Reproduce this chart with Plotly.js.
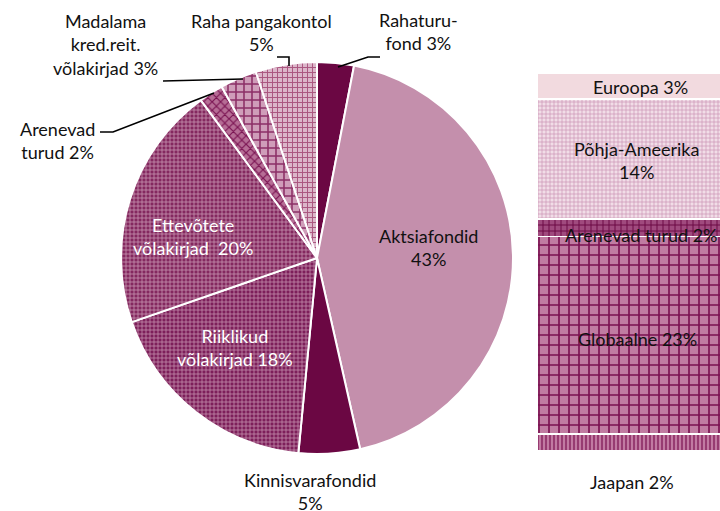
<!DOCTYPE html>
<html><head><meta charset="utf-8">
<script src="https://cdn.plot.ly/plotly-3.0.1.min.js"></script>
<style>body{margin:0;background:#fff}#c{width:720px;height:511px}</style>
</head><body><div id="c"></div>
<script>
// ---- data ----
const pieLabels = ["Rahaturufond","Aktsiafondid","Kinnisvarafondid","Riiklikud võlakirjad","Ettevõtete võlakirjad","Arenevad turud","Madalama kred.reit. võlakirjad","Raha pangakontol"];
const pieValues = [3, 43, 5, 18, 20, 2, 3, 5];
const pieTexts = ["Rahaturu-<br>fond 3%","Aktsiafondid<br>43%","Kinnisvarafondid<br>5%","Riiklikud<br>võlakirjad 18%","Ettevõtete<br>võlakirjad  20%","Arenevad<br>turud 2%","Madalama<br>kred.reit.<br>võlakirjad 3%","Raha pangakontol<br>5%"];
const barLabels = ["Jaapan","Globaalne","Arenevad turud","Põhja-Ameerika","Euroopa"];
const barValues = [2, 23, 2, 14, 3];
const barTexts = ["Jaapan 2%","Globaalne 23%","Arenevad turud 2%","Põhja-Ameerika<br>14%","Euroopa 3%"];

// ---- styling ----
const W = 720, H = 511;
const px = x => x / W, py = y => 1 - y / H;
const FONT = "Lato, 'Open Sans', sans-serif";

const pieBg = ["#6b0743","#c48fac","#6b0743","#7d1f5a","#84285f","#b66d95","#cf9db9","#dcb6ca"];
const pieFg = ["#6b0743","#c48fac","#6b0743","#c58eae","#c995b3","#7a1352","#8c2f66","#a9557f"];
const pieShape = ["","","","+","+","x","+","+"];
const pieSize = [8,8,8,4,4,6,8,5];
const pieTextPos = [[418,31],[428,247],[310,491],[235,347],[193,237],[57,141],[105,44],[261,32]];
const pieTextColor = ["#111","#111","#111","#fff","#fff","#111","#111","#111"];

const barBg = ["#c27aa2","#c07ca2","#a04a7e","#f1dde7","#f2dadf"];
const barFg = ["#7a1050","#7a1050","#6b0743","#c890b0","#f2dadf"];
const barShape = ["|","+","+","+",""];
const barSize = [4,10,6,4,8];
const barTextPos = [[632,482],[637,339],[641,235],[636,160],[640,87]];

const traces = [{
  type: "pie",
  labels: pieLabels,
  values: pieValues,
  sort: false,
  direction: "clockwise",
  rotation: 0,
  textinfo: "none",
  hoverinfo: "none",
  showlegend: false,
  domain: {x: [px(121), px(513)], y: [py(454), py(62)]},
  marker: {
    colors: pieBg,
    line: {color: "#ffffff", width: 2},
    pattern: {shape: pieShape, fgcolor: pieFg, bgcolor: pieBg, size: pieSize, solidity: 0.35, fillmode: "replace"}
  }
}];

barLabels.forEach((lab, i) => {
  traces.push({
    type: "bar",
    name: lab,
    x: [0.611],
    y: [barValues[i]],
    width: 0.917,
    xaxis: "x", yaxis: "y",
    hoverinfo: "none",
    showlegend: false,
    marker: {
      color: barBg[i],
      line: {color: "#ffffff", width: 1.5},
      pattern: {shape: barShape[i], fgcolor: barFg[i], bgcolor: barBg[i], size: barSize[i], solidity: 0.3, fillmode: "replace"}
    }
  });
});

const annotations = [];
pieTexts.forEach((t, i) => annotations.push({
  xref: "paper", yref: "paper", x: px(pieTextPos[i][0]), y: py(pieTextPos[i][1]),
  xanchor: "center", yanchor: "middle", text: t, showarrow: false, align: "center",
  font: {family: FONT, size: 18, color: pieTextColor[i]}
}));
barTexts.forEach((t, i) => annotations.push({
  xref: "paper", yref: "paper", x: px(barTextPos[i][0]), y: py(barTextPos[i][1]),
  xanchor: "center", yanchor: "middle", text: t, showarrow: false, align: "center",
  font: {family: FONT, size: 18, color: "#111"}
}));

const lineSt = {color: "#000", width: 1.6};
const path = pts => pts.map((p, k) => (k ? "L" : "M") + px(p[0]) + "," + py(p[1])).join(" ");
const shapes = [
  {type: "path", xref: "paper", yref: "paper", path: path([[338,67],[368,57],[380,57]]), line: lineSt},
  {type: "path", xref: "paper", yref: "paper", path: path([[289,66],[289,57],[277,57]]), line: lineSt},
  {type: "path", xref: "paper", yref: "paper", path: path([[163,81],[243,79]]), line: lineSt},
  {type: "path", xref: "paper", yref: "paper", path: path([[100,132],[113,132],[214,93]]), line: lineSt}
];

const layout = {
  width: W, height: H,
  margin: {l: 0, r: 0, t: 0, b: 0},
  paper_bgcolor: "#fff", plot_bgcolor: "rgba(0,0,0,0)",
  barmode: "stack", bargap: 0,
  xaxis: {domain: [0.7, 1], range: [0, 1], visible: false, fixedrange: true},
  yaxis: {domain: [0, 1], range: [-6.98, 52.5], visible: false, fixedrange: true},
  annotations: annotations,
  shapes: shapes,
  font: {family: FONT}
};

Plotly.newPlot("c", traces, layout, {displayModeBar: false, staticPlot: true});
</script>
</body></html>
